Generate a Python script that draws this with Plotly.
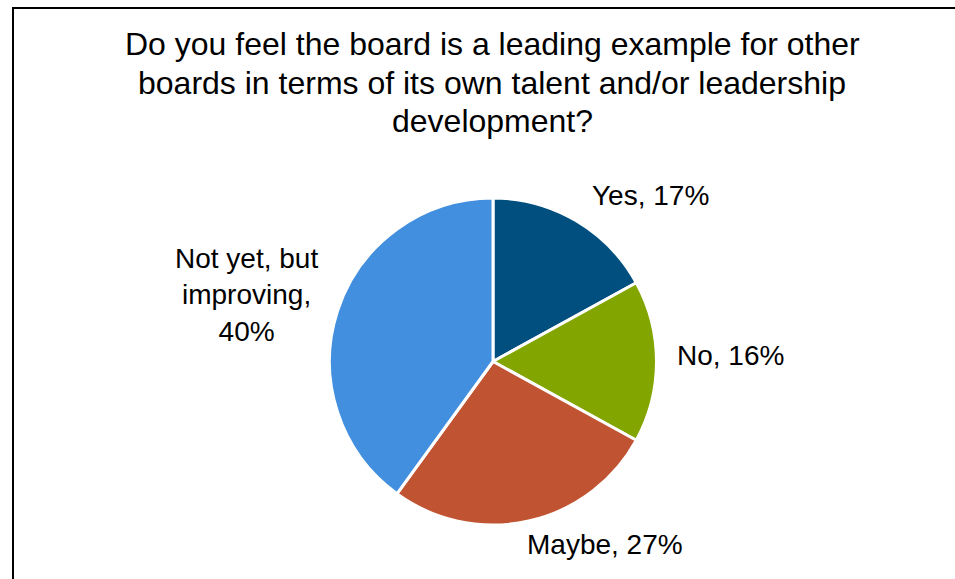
import math
import plotly.graph_objects as go

# ---- data ----
categories = ["Yes", "No", "Maybe", "Not yet, but improving"]
label_text = ["Yes, 17%", "No, 16%", "Maybe, 27%", "Not yet, but<br>improving,<br>40%"]
values = [17, 16, 27, 40]
colors = ["#004F7E", "#82A500", "#C05331", "#418FDE"]
title_lines = ["Do you feel the board is a leading example for other",
               "boards in terms of its own talent and/or leadership",
               "development?"]

# ---- layout geometry (pixels) ----
W, H = 955, 579
cx, cy, D = 493, 361.5, 328  # pie centre and domain size in pixels
ml = cx - D / 2
mt = cy - D / 2
mr = W - ml - D
mb = H - mt - D

FONT = "Arial, Liberation Sans, sans-serif"
TITLE_SIZE = 32
LABEL_SIZE = 28
label_radius_px = 178
# small per-label nudges (pixels, +x right, +y down) to mimic best-fit placement
label_nudge = [(6, 4), (4, -6), (-7, -8), (-4, -12)]


def px_x(px):
    return (px - ml) / D


def px_y(py):
    return (H - mb - py) / D


fig = go.Figure(go.Pie(
    labels=categories,
    values=values,
    sort=False,
    direction="clockwise",
    rotation=0,
    marker=dict(colors=colors, line=dict(color="white", width=3)),
    textinfo="none",
    hoverinfo="label+percent",
    showlegend=False,
))

annotations = []

# data labels at each slice's mid-angle, just outside the pie
total = sum(values)
cum = 0
for txt, v, (ndx, ndy) in zip(label_text, values, label_nudge):
    mid = (cum + v / 2) / total * 2 * math.pi
    cum += v
    s, c = math.sin(mid), math.cos(mid)
    xa = "left" if s > 0.1 else ("right" if s < -0.1 else "center")
    ya = "bottom" if c > 0.5 else ("top" if c < -0.5 else "middle")
    px = cx + label_radius_px * s + ndx
    py = cy - label_radius_px * c + ndy
    annotations.append(dict(
        x=px_x(px), y=px_y(py), xref="paper", yref="paper",
        text=txt, showarrow=False, xanchor=xa, yanchor=ya,
        align="center", font=dict(family=FONT, size=LABEL_SIZE, color="black"),
    ))

# title, one annotation per line for Excel-like line spacing
title_cx = 492
title_first_y = 43.5
title_spacing = 38.5
for i, line in enumerate(title_lines):
    annotations.append(dict(
        x=px_x(title_cx), y=px_y(title_first_y + i * title_spacing),
        xref="paper", yref="paper", text=line, showarrow=False,
        xanchor="center", yanchor="middle",
        font=dict(family=FONT, size=TITLE_SIZE, color="black"),
    ))

# outer chart border (right and bottom edges fall outside the page)
fig.add_shape(type="rect", xref="paper", yref="paper",
              x0=px_x(13), x1=px_x(W + 50),
              y0=px_y(H + 50), y1=px_y(7),
              line=dict(color="black", width=2), fillcolor="rgba(0,0,0,0)")

fig.update_layout(
    width=W, height=H,
    margin=dict(l=ml, r=mr, t=mt, b=mb, pad=0),
    paper_bgcolor="white", plot_bgcolor="white",
    annotations=annotations,
)

fig.write_html("out.html",
               config={"displayModeBar": False},
               post_script="document.body.style.margin='0';document.body.style.padding='0';")
